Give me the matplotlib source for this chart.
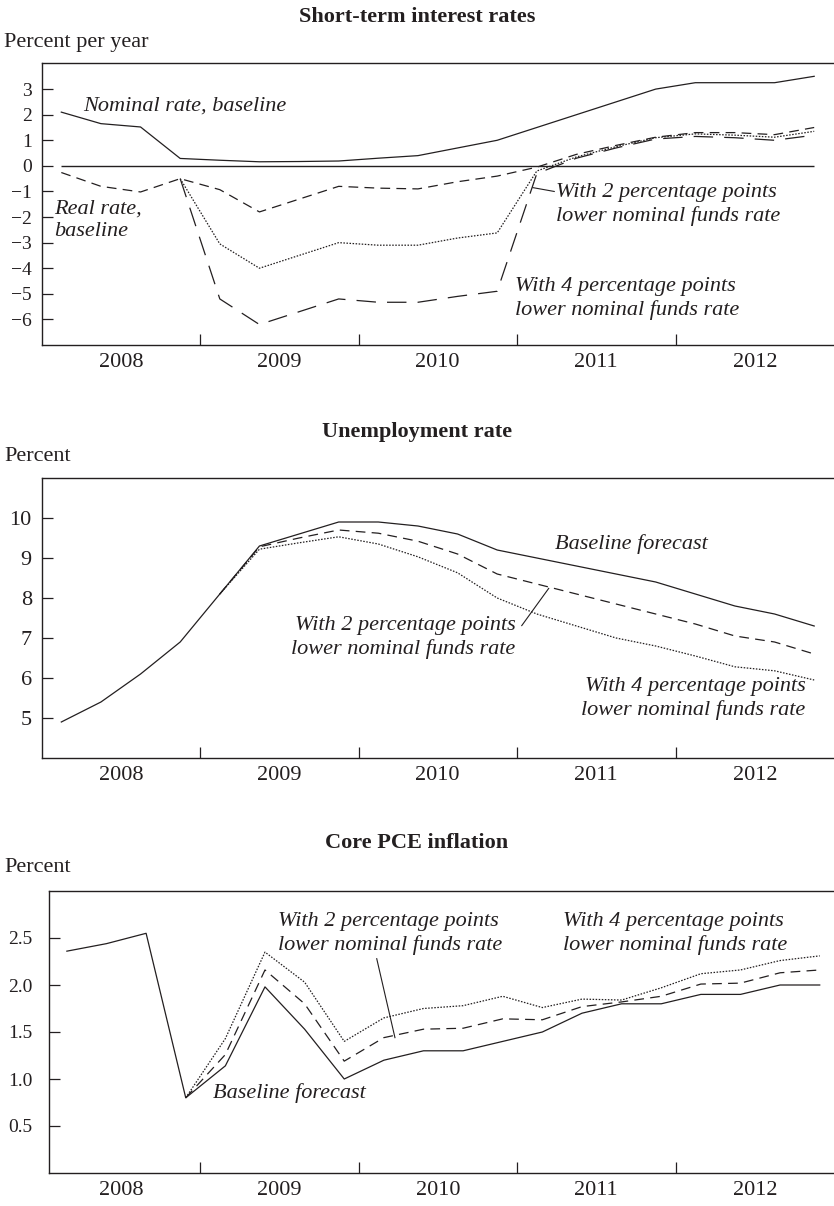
import numpy as np
import matplotlib
matplotlib.use("Agg")
import matplotlib.pyplot as plt

plt.rcParams["font.family"] = ["Liberation Serif", "DejaVu Serif"]
plt.rcParams["lines.scale_dashes"] = False

INK = "#231f20"

# ── data (quarterly, 2008Q1 .. 2012Q4) ─────────────────────────────────────
quarters = 2008.125 + 0.25 * np.arange(20)

nominal_base = [2.1, 1.65, 1.52, 0.29, 0.22, 0.16, 0.17, 0.19, 0.3, 0.4,
                0.7, 1.0, 1.5, 2.0, 2.5, 3.0, 3.25, 3.25, 3.25, 3.5]
real_base = [-0.26, -0.8, -1.02, -0.5, -0.93, -1.8, -1.3, -0.8, -0.87, -0.9,
             -0.62, -0.4, -0.05, 0.45, 0.8, 1.12, 1.3, 1.3, 1.22, 1.5]
real_2pp = [np.nan] * 3 + [-0.5, -3.05, -4.0, -3.5, -3.0, -3.1, -3.1, -2.82,
                           -2.62, -0.2, 0.35, 0.75, 1.1, 1.25, 1.2, 1.12, 1.35]
real_4pp = [np.nan] * 3 + [-0.5, -5.2, -6.2, -5.7, -5.2, -5.33, -5.33, -5.1,
                           -4.9, -0.3, 0.3, 0.7, 1.05, 1.15, 1.1, 1.0, 1.2]

unemp_base = [4.9, 5.4, 6.1, 6.9, 8.1, 9.3, 9.6, 9.9, 9.9, 9.8,
              9.6, 9.2, 9.0, 8.8, 8.6, 8.4, 8.1, 7.8, 7.6, 7.3]
unemp_2pp = [np.nan] * 4 + [8.1, 9.28, 9.5, 9.7, 9.62, 9.42, 9.1, 8.6,
                            8.35, 8.1, 7.85, 7.6, 7.35, 7.05, 6.9, 6.6]
unemp_4pp = [np.nan] * 4 + [8.1, 9.22, 9.38, 9.53, 9.35, 9.03, 8.63, 8.0,
                            7.6, 7.3, 7.0, 6.8, 6.55, 6.28, 6.18, 5.95]

pce_base = [2.36, 2.44, 2.55, 0.8, 1.14, 1.98, 1.53, 1.0, 1.2, 1.3,
            1.3, 1.4, 1.5, 1.7, 1.8, 1.8, 1.9, 1.9, 2.0, 2.0]
pce_2pp = [np.nan] * 3 + [0.8, 1.26, 2.16, 1.8, 1.19, 1.44, 1.53, 1.54,
                          1.64, 1.63, 1.77, 1.82, 1.88, 2.01, 2.02, 2.13, 2.16]
pce_4pp = [np.nan] * 3 + [0.8, 1.43, 2.35, 2.03, 1.4, 1.65, 1.75, 1.78,
                          1.88, 1.76, 1.85, 1.84, 1.97, 2.12, 2.16, 2.26, 2.31]

years = [2008, 2009, 2010, 2011, 2012]

W, H = 834, 1206
LW = 0.9
SOLID = dict(color=INK, lw=LW)
DASH = dict(color=INK, lw=LW, dashes=(7, 4.5))
LONGDASH = dict(color=INK, lw=LW, dashes=(14, 8))
DOTS = dict(color=INK, lw=LW, dashes=(1.1, 1.1))
ITAL = dict(fontsize=16, fontstyle="italic", color=INK, linespacing=1.25)


def px_axes(fig, left, top, bottom):
    return fig.add_axes([left / W, 1 - bottom / H, 1 - left / W, (bottom - top) / H])


def frame(ax, x0, ylim, yticks, yfmt, ysize, ypad):
    ax.set_xlim(x0, 2013)
    ax.set_ylim(*ylim)
    ax.spines["right"].set_visible(False)
    for s in ("left", "top", "bottom"):
        ax.spines[s].set_linewidth(1.0)
        ax.spines[s].set_color(INK)
    ax.set_yticks(yticks)
    ax.set_yticklabels([yfmt(v).replace("-", "\u2212") for v in yticks])
    ax.tick_params(axis="y", direction="in", length=8, width=0.9, color=INK,
                   labelsize=ysize, pad=ypad, labelcolor=INK)
    ax.set_xticks(years[1:])
    ax.set_xticklabels([])
    ax.set_xticks([y + 0.5 for y in years], minor=True)
    ax.set_xticklabels([str(y) for y in years], minor=True)
    ax.tick_params(axis="x", which="major", direction="in", length=8,
                   width=0.9, color=INK)
    ax.tick_params(axis="x", which="minor", length=0, labelsize=16, pad=6,
                   labelcolor=INK)


fig = plt.figure(figsize=(W / 100, H / 100), dpi=100)

# ── panel 1: short-term interest rates ───────────────────────────────────
ax1 = px_axes(fig, 41.5, 63, 345)
frame(ax1, 2008, (-7, 4.02), list(range(-6, 4)), lambda v: f"{v:d}", 14, 7)
ax1.hlines(0, quarters[0], quarters[-1], color=INK, lw=1.0)
ax1.plot(quarters, nominal_base, **SOLID)
ax1.plot(quarters, real_base, **DASH)
ax1.plot(quarters, real_2pp, **DOTS)
ax1.plot(quarters, real_4pp, **LONGDASH)
ax1.text(2008.26, 2.35, "Nominal rate, baseline", ha="left", va="center", **ITAL)
ax1.text(2008.08, -2.12, "Real rate,\nbaseline", ha="left", va="center", **ITAL)
ax1.text(2011.245, -1.5, "With 2 percentage points\nlower nominal funds rate",
         ha="left", va="center", **ITAL)
ax1.plot([2011.1, 2011.235], [-0.85, -1.0], color=INK, lw=0.8)
ax1.text(2010.99, -5.19, "With 4 percentage points\nlower nominal funds rate",
         ha="left", va="center", **ITAL)
fig.text(417 / W, 1 - 17 / H, "Short-term interest rates", ha="center",
         va="center", fontsize=16, fontweight="bold", color=INK)
fig.text(4 / W, 1 - 42 / H, "Percent per year", ha="left", va="center",
         fontsize=16, color=INK)

# ── panel 2: unemployment rate ───────────────────────────────────────────
ax2 = px_axes(fig, 41.5, 478, 758)
frame(ax2, 2008, (4, 11), list(range(5, 11)), lambda v: f"{v:d}", 16, 7)
ax2.plot(quarters, unemp_base, **SOLID)
ax2.plot(quarters, unemp_2pp, **DASH)
ax2.plot(quarters, unemp_4pp, **DOTS)
ax2.text(2011.24, 9.34, "Baseline forecast", ha="left", va="center", **ITAL)
ax2.text(2010.99, 7.01, "With 2 percentage points\nlower nominal funds rate",
         ha="right", va="center", **ITAL)
ax2.plot([2011.03, 2011.2], [7.31, 8.24], color=INK, lw=0.8)
ax2.text(2012.82, 5.49, "With 4 percentage points\nlower nominal funds rate",
         ha="right", va="center", **ITAL)
fig.text(417 / W, 1 - 432 / H, "Unemployment rate", ha="center",
         va="center", fontsize=16, fontweight="bold", color=INK)
fig.text(4 / W, 1 - 456 / H, "Percent", ha="left", va="center",
         fontsize=16, color=INK)

# ── panel 3: core PCE inflation ──────────────────────────────────────────
q3 = quarters + 0.035
ax3 = px_axes(fig, 49, 891, 1173)
frame(ax3, 2009 - (200 - 49) / 158.5, (0, 3.0), [0.5, 1.0, 1.5, 2.0, 2.5],
      lambda v: f"{v:.1f}", 14, 12)
ax3.plot(q3, pce_base, **SOLID)
ax3.plot(q3, pce_2pp, **DASH)
ax3.plot(q3, pce_4pp, **DOTS)
ax3.text(2009.08, 0.85, "Baseline forecast", ha="left", va="center", **ITAL)
ax3.text(2009.49, 2.55, "With 2 percentage points\nlower nominal funds rate",
         ha="left", va="center", **ITAL)
ax3.plot([2010.115, 2010.23], [2.28, 1.44], color=INK, lw=0.8)
ax3.text(2011.29, 2.55, "With 4 percentage points\nlower nominal funds rate",
         ha="left", va="center", **ITAL)
fig.text(417 / W, 1 - 843 / H, "Core PCE inflation", ha="center",
         va="center", fontsize=16, fontweight="bold", color=INK)
fig.text(4 / W, 1 - 868 / H, "Percent", ha="left", va="center",
         fontsize=16, color=INK)

fig.savefig("out.png", dpi=100, facecolor="white")
